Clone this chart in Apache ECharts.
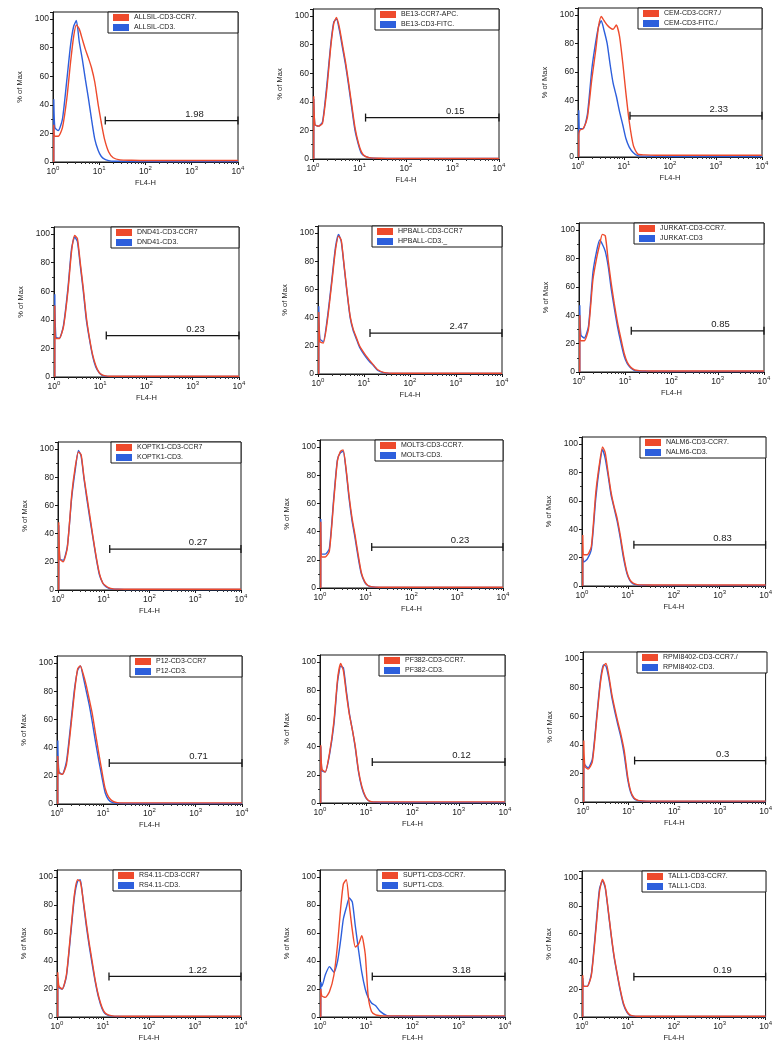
<!DOCTYPE html>
<html><head><meta charset="utf-8">
<script src="https://cdn.jsdelivr.net/npm/echarts@6/dist/echarts.min.js"></script>
<style>html,body{margin:0;padding:0;background:#fff}#c{width:775px;height:1046px}</style>
</head><body><div id="c"></div>
<script>
// ---- data ----
const FL4 = [1.04, 1.04, 1.1, 1.3, 1.6, 2.0, 2.4, 2.8, 3.2, 3.7, 4.3, 5.0, 5.8, 6.8, 8.0, 9.5, 11, 13, 16, 20, 28, 50, 100, 1000, 10000];
const X_TICKS = [1, 10, 100, 1000, 10000];
const Y_TICKS = [0, 20, 40, 60, 80, 100];
const redNames = ['ALLSIL-CD3-CCR7.', 'BE13-CCR7-APC.', 'CEM-CD3-CCR7./', 'DND41-CD3-CCR7', 'HPBALL-CD3-CCR7', 'JURKAT-CD3-CCR7.', 'KOPTK1-CD3-CCR7', 'MOLT3-CD3-CCR7.', 'NALM6-CD3-CCR7.', 'P12-CD3-CCR7', 'PF382-CD3-CCR7.', 'RPMI8402-CD3-CCR7./', 'RS4.11-CD3-CCR7', 'SUPT1-CD3-CCR7.', 'TALL1-CD3-CCR7.'];
const blueNames = ['ALLSIL-CD3.', 'BE13-CD3-FITC.', 'CEM-CD3-FITC./', 'DND41-CD3.', 'HPBALL-CD3._', 'JURKAT-CD3', 'KOPTK1-CD3.', 'MOLT3-CD3.', 'NALM6-CD3.', 'P12-CD3.', 'PF382-CD3.', 'RPMI8402-CD3.', 'RS4.11-CD3.', 'SUPT1-CD3.', 'TALL1-CD3.'];
const gateLabels = ['1.98', '0.15', '2.33', '0.23', '2.47', '0.85', '0.27', '0.23', '0.83', '0.71', '0.12', '0.3', '1.22', '3.18', '0.19'];
const GATE_START = 13.5, GATE_END = 10000, GATE_Y = 29, GATE_LABEL_X = 1150;

const red_ALLSIL  = [0, 26, 18, 18, 24, 45, 70, 88, 96, 93, 86, 79, 73, 66, 56, 40, 28, 16, 7, 3, 1.5, 1.2, 1, 1, 1];
const blue_ALLSIL = [0, 44, 24, 22, 30, 58, 82, 95, 99, 84, 72, 58, 45, 30, 16, 8, 4, 2, 1, 0.5, 0.5, 0.3, 0.3, 0.3, 0.3];
const red_BE13    = [0, 44, 24, 23, 25, 50, 78, 95, 99, 92, 80, 68, 54, 38, 22, 11, 5, 2, 1, 0.6, 0.5, 0.4, 0.4, 0.3, 0.3];
const blue_BE13   = [0, 42, 24, 23, 26, 53, 80, 96, 98, 90, 78, 66, 52, 36, 20, 10, 4, 2, 1, 0.5, 0.4, 0.3, 0.3, 0.3, 0.3];
const red_CEM     = [0, 15, 19, 20, 28, 55, 74, 92, 99, 96, 93, 91, 90, 93, 85, 65, 45, 25, 8, 2, 1.5, 1.2, 1.2, 1.2, 1.2];
const blue_CEM    = [0, 33, 20, 20, 30, 62, 80, 92, 96, 89, 80, 65, 52, 43, 32, 22, 13, 7, 3, 1, 0.6, 0.5, 0.4, 0.3, 0.3];
const red_DND41   = [0, 50, 27, 27, 35, 60, 88, 99, 97, 80, 62, 42, 28, 16, 8, 3, 1.5, 0.8, 0.5, 0.5, 0.5, 0.5, 0.5, 0.5, 0.5];
const blue_DND41  = [0, 58, 28, 27, 36, 62, 90, 98, 95, 78, 60, 40, 27, 15, 7, 3, 1.2, 0.6, 0.4, 0.4, 0.4, 0.4, 0.4, 0.4, 0.4];
const red_HPBALL  = [0, 44, 23, 22, 38, 65, 88, 98, 95, 77, 58, 41, 32, 26, 20, 16, 13, 10, 6.5, 3, 1, 0.5, 0.5, 0.5, 0.5];
const blue_HPBALL = [0, 48, 25, 23, 40, 67, 90, 99, 94, 76, 57, 40, 31, 25, 19, 15, 12, 9, 6, 2.5, 0.8, 0.4, 0.4, 0.4, 0.4];
const red_JURKAT  = [0, 40, 22, 22, 30, 65, 80, 90, 97, 96, 78, 62, 48, 35, 24, 13, 7, 3.5, 1.5, 1, 0.8, 0.7, 0.7, 0.7, 0.7];
const blue_JURKAT = [0, 47, 26, 24, 32, 70, 85, 93, 90, 85, 74, 58, 45, 32, 21, 11, 6, 3, 1, 0.6, 0.5, 0.4, 0.4, 0.4, 0.4];
const red_KOPTK1  = [0, 48, 22, 20, 30, 68, 88, 98, 96, 80, 66, 52, 38, 24, 12, 5, 3, 1.5, 0.8, 0.6, 0.5, 0.5, 0.5, 0.5, 0.5];
const blue_KOPTK1 = [0, 46, 22, 21, 31, 66, 86, 99, 95, 79, 64, 50, 37, 23, 11, 5, 2.5, 1.2, 0.6, 0.5, 0.4, 0.4, 0.4, 0.4, 0.4];
const red_MOLT3   = [0, 47, 22, 22, 26, 62, 90, 97, 98, 85, 66, 50, 38, 24, 11, 4.5, 2, 1, 0.6, 0.5, 0.5, 0.5, 0.5, 0.5, 0.5];
const blue_MOLT3  = [0, 49, 24, 24, 28, 64, 91, 96, 97, 84, 64, 48, 36, 22, 10, 4, 1.8, 0.9, 0.5, 0.4, 0.4, 0.4, 0.4, 0.4, 0.4];
const red_NALM6   = [0, 36, 22, 22, 28, 66, 86, 98, 94, 80, 66, 56, 48, 36, 22, 10, 4.5, 2, 1, 0.8, 0.7, 0.7, 0.7, 0.7, 0.7];
const blue_NALM6  = [0, 20, 17, 19, 26, 62, 84, 96, 90, 78, 64, 55, 46, 34, 20, 9, 4, 1.5, 0.8, 0.5, 0.5, 0.4, 0.4, 0.4, 0.4];
const red_P12     = [0, 34, 22, 21, 28, 55, 80, 96, 98, 92, 84, 74, 64, 50, 36, 22, 11, 5, 2, 1, 0.8, 0.8, 0.8, 0.8, 0.8];
const blue_P12    = [0, 45, 23, 21, 30, 58, 82, 95, 98, 90, 80, 70, 58, 44, 31, 18, 8, 3, 1, 0.5, 0.4, 0.4, 0.4, 0.4, 0.4];
const red_PF382   = [0, 41, 24, 22, 35, 58, 88, 99, 94, 78, 63, 52, 40, 23, 12, 5, 2, 1, 0.8, 0.8, 0.8, 0.8, 0.8, 0.8, 0.8];
const blue_PF382  = [0, 40, 23, 22, 34, 56, 86, 97, 96, 80, 64, 52, 39, 22, 11, 4.5, 1.8, 0.8, 0.5, 0.4, 0.4, 0.4, 0.4, 0.4, 0.4];
const red_RPMI8402  = [0, 43, 25, 23, 28, 58, 83, 95, 97, 88, 75, 65, 56, 47, 36, 18, 8, 3, 1.2, 0.8, 0.6, 0.6, 0.6, 0.6, 0.6];
const blue_RPMI8402 = [0, 28, 26, 24, 30, 60, 85, 96, 95, 86, 73, 63, 54, 45, 33, 16, 7, 2.5, 1, 0.5, 0.4, 0.4, 0.4, 0.4, 0.4];
const red_RS411   = [0, 32, 22, 20, 30, 62, 88, 98, 97, 84, 68, 53, 40, 26, 15, 7, 3, 1.5, 0.8, 0.6, 0.5, 0.5, 0.5, 0.5, 0.5];
const blue_RS411  = [0, 28, 21, 20, 29, 60, 86, 97, 98, 83, 66, 51, 38, 25, 14, 6, 2.5, 1.2, 0.6, 0.4, 0.4, 0.4, 0.4, 0.4, 0.4];
const red_SUPT1   = [0, 20, 15, 14, 18, 30, 52, 78, 95, 98, 80, 62, 50, 52, 58, 45, 15, 4, 1.5, 1, 0.8, 0.8, 0.8, 0.8, 0.8];
const blue_SUPT1  = [0, 25, 22, 30, 36, 32, 40, 55, 70, 78, 85, 82, 65, 48, 32, 20, 14, 10, 8, 4, 1, 0.5, 0.4, 0.4, 0.4];
const red_TALL1   = [0, 30, 22, 22, 30, 62, 90, 99, 94, 78, 60, 44, 32, 20, 10, 4, 1.5, 0.8, 0.5, 0.5, 0.5, 0.5, 0.5, 0.5, 0.5];
const blue_TALL1  = [0, 28, 22, 22, 31, 64, 92, 98, 93, 77, 59, 43, 31, 19, 9, 3.5, 1.2, 0.6, 0.4, 0.4, 0.4, 0.4, 0.4, 0.4, 0.4];

const redSeries  = [red_ALLSIL, red_BE13, red_CEM, red_DND41, red_HPBALL, red_JURKAT, red_KOPTK1, red_MOLT3, red_NALM6, red_P12, red_PF382, red_RPMI8402, red_RS411, red_SUPT1, red_TALL1];
const blueSeries = [blue_ALLSIL, blue_BE13, blue_CEM, blue_DND41, blue_HPBALL, blue_JURKAT, blue_KOPTK1, blue_MOLT3, blue_NALM6, blue_P12, blue_PF382, blue_RPMI8402, blue_RS411, blue_SUPT1, blue_TALL1];

// ---- layout (plot boxes: left, top, width, height) ----
const PANELS = [
  [53, 12, 185, 150], [313, 9, 186, 150], [578, 8, 184, 149],
  [54, 227, 185, 150], [318, 226, 184, 148], [579, 223, 185, 149],
  [58, 442, 183, 148], [320, 440, 183, 148], [582, 437, 184, 149],
  [57, 656, 185, 148], [320, 655, 185, 148], [583, 652, 184, 150],
  [57, 870, 184, 147], [320, 870, 185, 147], [582, 871, 184, 146]
];
const LEGEND_W = [130, 124, 124, 128, 130, 130, 130, 128, 126, 112, 126, 130, 128, 128, 124];
const W = 775;
const RED = '#ee4a2c', BLUE = '#2d5fdc', INK = '#161616';
const LEG_FONT = 7, LEG_FAMILY = 'Liberation Sans, Arial, sans-serif';

// measure legend text so each box can be stretched to the reference width
const mctx = document.createElement('canvas').getContext('2d');
mctx.font = LEG_FONT + 'px ' + LEG_FAMILY;
const textWidth = s => mctx.measureText(s).width;

const chart = echarts.init(document.getElementById('c'), null, {renderer: 'canvas'});
const option = {
  animation: false,
  backgroundColor: '#fff',
  textStyle: {fontFamily: LEG_FAMILY},
  grid: [], xAxis: [], yAxis: [], legend: [], series: []
};

PANELS.forEach((p, i) => {
  const [l, t, w, h] = p;
  option.grid.push({left: l, top: t, width: w, height: h, show: true, borderColor: INK, borderWidth: 1, backgroundColor: 'transparent'});
  option.xAxis.push({
    type: 'log', logBase: 10, gridIndex: i, min: X_TICKS[0], max: X_TICKS[X_TICKS.length - 1],
    name: 'FL4-H', nameLocation: 'middle', nameGap: 17,
    nameTextStyle: {fontSize: 7.5, color: '#222'},
    axisLine: {show: true, lineStyle: {color: INK, width: 1}},
    axisTick: {show: true, length: 3, lineStyle: {color: INK}},
    minorTick: {show: true, splitNumber: 9, length: 2, lineStyle: {color: '#333'}},
    splitLine: {show: false},
    axisLabel: {
      margin: 3,
      formatter: v => '{b|10}{s|' + Math.round(Math.log10(v)) + '}',
      rich: {
        b: {fontSize: 8.5, color: '#222', lineHeight: 11, verticalAlign: 'bottom'},
        s: {fontSize: 6, color: '#222', lineHeight: 11, verticalAlign: 'top'}
      }
    }
  });
  option.yAxis.push({
    type: 'value', gridIndex: i, min: 0, max: 105, interval: 20,
    name: '% of Max', nameLocation: 'middle', nameGap: 29, nameRotate: 90,
    nameTextStyle: {fontSize: 7.5, color: '#222'},
    axisLine: {show: true, lineStyle: {color: INK, width: 1}},
    axisTick: {show: true, length: 3, lineStyle: {color: INK}},
    minorTick: {show: true, splitNumber: 2, length: 2, lineStyle: {color: '#333'}},
    splitLine: {show: false},
    axisLabel: {fontSize: 8.5, color: '#222', margin: 4, formatter: v => (Y_TICKS.indexOf(v) >= 0 ? String(v) : '')}
  });
  const tw = Math.max(textWidth(redNames[i]), textWidth(blueNames[i]));
  const padRight = Math.max(3, LEGEND_W[i] - 5 - 16 - 5 - tw);
  option.legend.push({
    orient: 'vertical', right: W - (l + w), top: t,
    data: [redNames[i], blueNames[i]], icon: 'rect', itemWidth: 16, itemHeight: 7, itemGap: 3,
    padding: [2, padRight, 2, 5], borderColor: INK, borderWidth: 1, backgroundColor: '#fff',
    selectedMode: false,
    textStyle: {fontSize: LEG_FONT, color: '#222'}
  });
  option.series.push({
    type: 'line', name: blueNames[i], xAxisIndex: i, yAxisIndex: i,
    data: FL4.map((x, k) => [x, blueSeries[i][k]]),
    symbol: 'none', smooth: 0.2, lineStyle: {color: BLUE, width: 1.4}, itemStyle: {color: BLUE}, z: 2
  });
  option.series.push({
    type: 'line', name: redNames[i], xAxisIndex: i, yAxisIndex: i,
    data: FL4.map((x, k) => [x, redSeries[i][k]]),
    symbol: 'none', smooth: 0.2, lineStyle: {color: RED, width: 1.4}, itemStyle: {color: RED}, z: 3
  });
  option.series.push({
    type: 'line', xAxisIndex: i, yAxisIndex: i,
    data: [[GATE_START, GATE_Y], [GATE_END, GATE_Y]],
    symbol: 'rect', symbolSize: [1.3, 8], showSymbol: true, clip: false,
    lineStyle: {color: INK, width: 1.2}, itemStyle: {color: INK}, z: 4,
    markPoint: {
      symbol: 'rect', symbolSize: 1, itemStyle: {color: 'rgba(0,0,0,0)'},
      label: {show: true, position: 'top', distance: 1, color: '#222', fontSize: 9.5, formatter: gateLabels[i]},
      data: [{coord: [GATE_LABEL_X, GATE_Y]}]
    }
  });
});

chart.setOption(option);
</script>
</body></html>
